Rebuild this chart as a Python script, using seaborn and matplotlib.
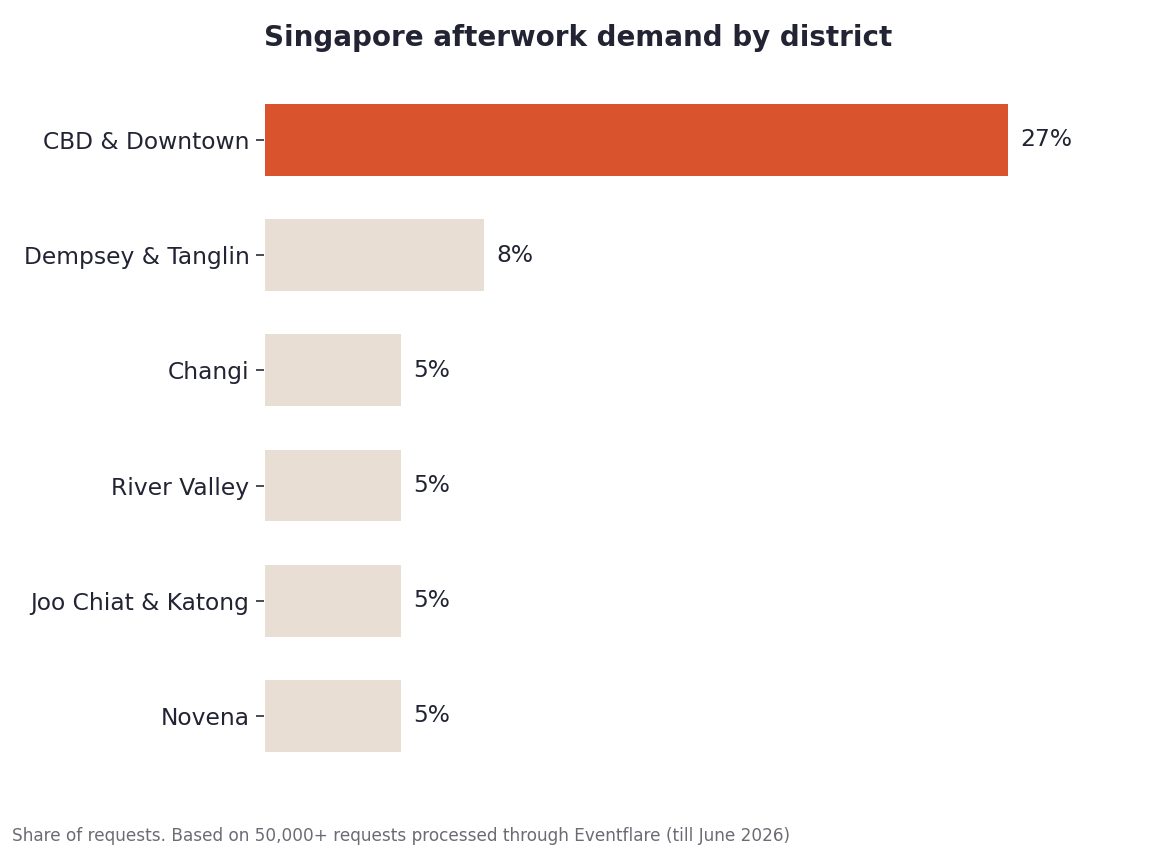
import matplotlib
matplotlib.use("Agg")
import matplotlib.pyplot as plt
import seaborn as sns
import pandas as pd

districts = ["CBD & Downtown", "Dempsey & Tanglin", "Changi", "River Valley",
             "Joo Chiat & Katong", "Novena"]
shares = [27, 8, 5, 5, 5, 5]
bar_colors = ["#D9532C", "#E8DED4", "#E8DED4", "#E8DED4", "#E8DED4", "#E8DED4"]

title = "Singapore afterwork demand by district"
footer = "Share of requests. Based on 50,000+ requests processed through Eventflare (till June 2026)"

df = pd.DataFrame({"district": districts, "share": shares})

sns.set_style("white")
plt.rcParams["font.family"] = ["DejaVu Sans"]
text_col = "#222433"

fig, ax = plt.subplots(figsize=(8, 5.91), dpi=144)
fig.subplots_adjust(left=0.2295, right=0.9714, top=0.9032, bottom=0.091)

sns.barplot(data=df, x="share", y="district", hue="district", palette=bar_colors,
            legend=False, width=0.64, saturation=1, ax=ax)

for i, v in enumerate(shares):
    ax.text(v + 0.4, i, f"{v}%", va="center", ha="left", fontsize=11.7, color=text_col)

ax.set_xlim(0, 31)
ax.set_ylim(5.5, -0.5)
ax.set_xlabel("")
ax.set_ylabel("")
ax.set_xticks([])
ax.tick_params(axis="y", length=4, color=text_col, labelsize=11.7, labelcolor=text_col, left=True)
sns.despine(ax=ax, left=True, bottom=True)

ax.set_title(title, loc="left", fontsize=13.85, fontweight="bold", color=text_col, pad=18)
fig.text(0.01, 0.007, footer, fontsize=8.45, color="#6B6B73", ha="left", va="bottom")

fig.savefig("out.png", dpi=144)
